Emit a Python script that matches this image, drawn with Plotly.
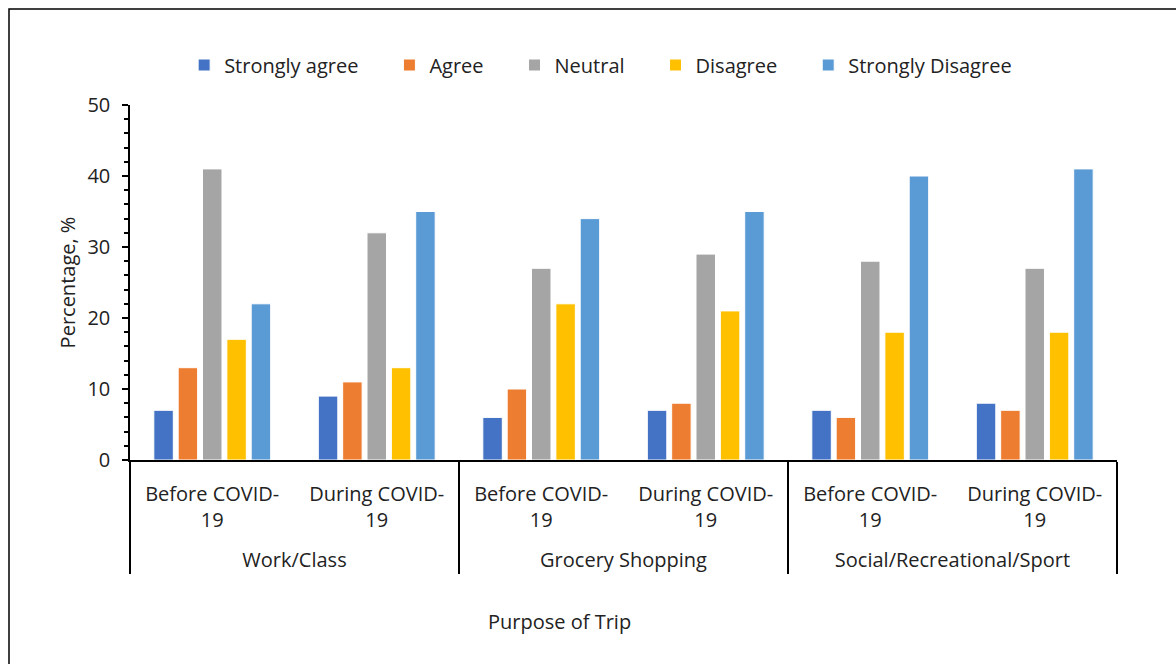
import plotly.graph_objects as go

purposes = ["Work/Class", "Work/Class", "Grocery Shopping", "Grocery Shopping",
            "Social/Recreational/Sport", "Social/Recreational/Sport"]
periods = ["Before COVID-<br>19<br> ", "During COVID-<br>19<br> "] * 3

series_names = ["Strongly agree", "Agree", "Neutral", "Disagree", "Strongly Disagree"]
strongly_agree = [7, 9, 6, 7, 7, 8]
agree = [13, 11, 10, 8, 6, 7]
neutral = [41, 32, 27, 29, 28, 27]
disagree = [17, 13, 22, 21, 18, 18]
strongly_disagree = [22, 35, 34, 35, 40, 41]
colors = ["#4472C4", "#ED7D31", "#A5A5A5", "#FFC000", "#5B9BD5"]

FONT = "Open Sans"
FS = 20
W, H = 1176, 664
L, R, T, B = 130, 1117, 105, 460

fig = go.Figure()
for name, vals, c in zip(series_names,
                         [strongly_agree, agree, neutral, disagree, strongly_disagree],
                         colors):
    fig.add_trace(go.Bar(x=[purposes, periods], y=vals, name=name + "\u00a0" * 5,
                         marker=dict(color=c, line=dict(color="white", width=1))))

def px_x(p):
    return (p - L) / (R - L)

def px_y(p):
    return (B - p) / (B - T)

fig.update_layout(
    width=W, height=H,
    margin=dict(l=L, r=W - R, t=T, b=H - B),
    paper_bgcolor="white", plot_bgcolor="white",
    font=dict(family=FONT, size=FS, color="#222"),
    barmode="group", bargap=0.26, bargroupgap=0.2,
    showlegend=True,
    legend=dict(orientation="h", x=0.49, xanchor="center", y=px_y(65), yanchor="middle",
                font=dict(size=FS), itemwidth=30, traceorder="normal"),
    xaxis=dict(type="multicategory", showline=True, linecolor="black", linewidth=1.5,
               showdividers=True, dividercolor="black", dividerwidth=1.5,
               ticks="", tickfont=dict(size=FS), showgrid=False, ticklabelstandoff=15),
    yaxis=dict(range=[0, 50], tickvals=[0, 10, 20, 30, 40, 50], showline=True,
               linecolor="black", linewidth=1.5, ticks="outside", ticklen=6,
               tickcolor="black", tickwidth=1.5, showgrid=False, zeroline=False,
               tickfont=dict(size=FS), ticklabelstandoff=8,
               minor=dict(tickvals=[v for v in range(0, 51, 2)], ticks="outside",
                          ticklen=4, tickcolor="black", tickwidth=1.5),
               title=dict(text="Percentage, %", font=dict(size=FS), standoff=6)),
    shapes=[dict(type="rect", xref="paper", yref="paper",
                 x0=px_x(9), x1=px_x(W + 20), y0=px_y(H + 20), y1=px_y(9),
                 line=dict(color="black", width=1.5), fillcolor="rgba(0,0,0,0)")],
    annotations=[dict(text="Purpose of Trip", xref="paper", yref="paper",
                      x=px_x(559), y=px_y(621), xanchor="center", yanchor="middle",
                      showarrow=False, font=dict(size=FS))],
)

fig.write_html("out.html")
